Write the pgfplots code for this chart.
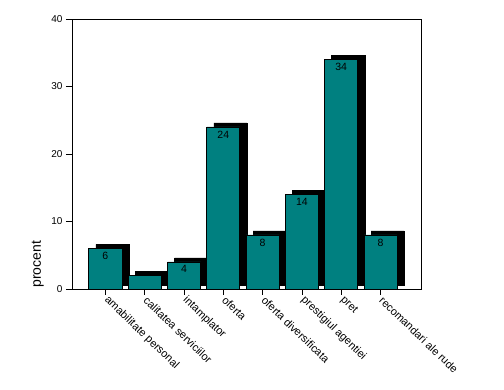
\documentclass[border=0pt]{standalone}
\usepackage{pgfplots}
\pgfplotsset{compat=1.18}
\usepackage{pgfplotstable}
\usepackage{fontspec}
\setmainfont{Liberation Sans}
\definecolor{barteal}{RGB}{0,128,128}

\pgfplotstableread{
x y lab
0 6 6
1 2 {}
2 4 4
3 24 24
4 8 8
5 14 14
6 34 34
7 8 8
}\datatab

\pgfplotstableread{
x base y
0.18 0.6 6
1.18 0.6 2
2.18 0.6 4
3.18 0.6 24
4.18 0.6 8
5.18 0.6 14
6.18 0.6 34
7.18 0.6 8
}\shadowtab

\pgfplotsset{common/.style={
  scale only axis, width=349pt, height=270pt,
  at={(72pt,101pt)}, anchor=south west,
  xmin=-0.85, xmax=8.03, ymin=0, ymax=40,
  enlargelimits=false,
}}

\begin{document}
\begin{tikzpicture}
\path[use as bounding box] (0,0) rectangle (504pt,390pt);
\begin{axis}[common, hide axis, ybar stacked, bar width=0.84]
\addplot[fill=none, draw=none] table[x=x,y=base]{\shadowtab};
\addplot[fill=black, draw=black, line width=0.6pt] table[x=x,y=y]{\shadowtab};
\end{axis}
\begin{axis}[common, ybar, bar width=0.84, bar shift=0pt,
  axis line style={line width=0.8pt},
  tick style={black, line width=0.8pt},
  tick align=outside, major tick length=6pt,
  xtick pos=lower, ytick pos=left,
  xtick={0,...,7},
  xticklabels={amabilitate personal, calitatea serviciilor, intamplator, oferta, oferta diversificata, prestigiul agentiei, pret, recomandari ale rude},
  ytick={0,10,20,30,40},
  xticklabel style={rotate=-44, anchor=west, inner sep=0pt, xshift=3pt, yshift=-2pt, font=\fontsize{11}{13}\selectfont},
  yticklabel style={font=\fontsize{10}{12}\selectfont},
  /pgf/number format/assume math mode=true,
  ylabel={procent},
  every axis y label/.style={at={(axis description cs:-0.098,0.092)}, rotate=90, anchor=center, font=\fontsize{14}{16}\selectfont},
  nodes near coords, point meta=explicit symbolic,
  every node near coord/.append style={anchor=north, black, font=\fontsize{10.5}{12}\selectfont},
]
\addplot[fill=barteal, draw=black, line width=0.8pt] table[x=x,y=y,meta=lab]{\datatab};
\end{axis}
\end{tikzpicture}
\end{document}
